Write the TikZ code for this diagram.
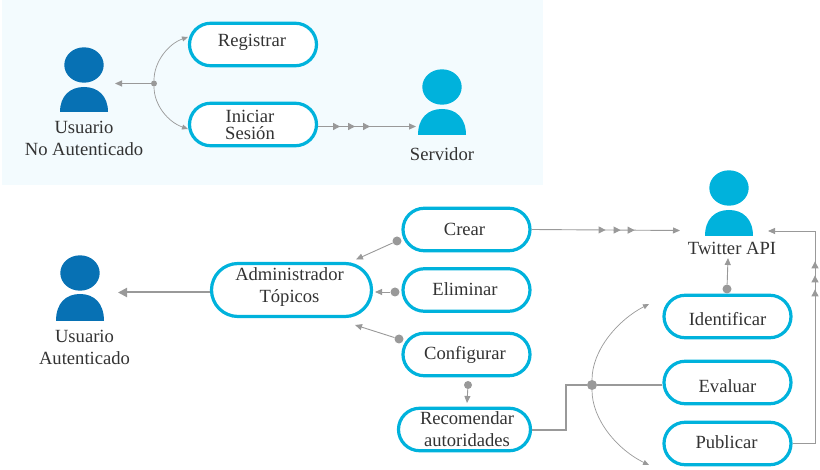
\documentclass[tikz,border=0pt]{standalone}
\usepackage{fontspec}
\setmainfont{Liberation Serif}
\usetikzlibrary{arrows.meta,shapes.misc,decorations.markings,calc}
\definecolor{pillblue}{HTML}{00B2DC}
\definecolor{darkuser}{HTML}{0771B4}
\definecolor{linegray}{HTML}{999999}
\definecolor{txtgray}{HTML}{333333}
\definecolor{panel}{HTML}{F3FBFE}
\tikzset{
  x=1pt,y=-1pt,
  pill/.style={draw=pillblue,line width=3.2pt,fill=white,rounded rectangle,rounded rectangle arc length=180,
    minimum width=#1,minimum height=42.5pt,inner sep=0pt,outer sep=1.6pt},
  pill/.default=127pt,
  txt/.style={text=txtgray,font=\fontsize{18.6}{22}\selectfont,align=center,inner sep=0pt},
  txtt/.style={text=txtgray,font=\fontsize{18.6}{17.5}\selectfont,align=center,inner sep=0pt},
  junction/.style={circle,fill=linegray,draw=none,minimum size=#1,inner sep=0pt},
  junction/.default=10pt,
  conn/.style={draw=linegray,line width=0.9pt,-{Triangle[length=7pt,width=6pt]}},
  thinconn/.style={draw=linegray,line width=0.7pt,-{Triangle[length=6pt,width=5pt]}},
  thickconn/.style={draw=linegray,line width=2.5pt},
  trunk/.style={draw=linegray,line width=2pt,-{Triangle[length=9pt,width=9pt]}},
}
\newcommand{\usershape}[5]{% x, headY, bodyTop, bodyBottom, colour
  \fill[#5] (#1,#2) ellipse [x radius=19.7pt,y radius=17.7pt];
  \fill[#5] (#1-24,#4) .. controls (#1-24,#3+9) and (#1-14,#3) .. (#1,#3)
     .. controls (#1+14,#3) and (#1+24,#3+9) .. (#1+24,#4) -- cycle;
}
\begin{document}
\begin{tikzpicture}
\useasboundingbox (0,0) rectangle (820,470);
\fill[panel] (2,0) rectangle (543,185);

% people
\usershape{84}{65}{87}{112}{darkuser}
\usershape{442}{87}{109}{135}{pillblue}
\usershape{729}{188}{210}{236}{pillblue}
\usershape{80}{273}{294}{321}{darkuser}
\node[txt] (tna) at (84,138) {Usuario\\No Autenticado};
\node[txt] (tsv) at (442,154) {Servidor};
\node[txt] (ttw) at (732,248) {Twitter API};
\node[txt] (tua) at (84.5,347.5) {Usuario\\Autenticado};

% pills
\node[pill,label={[txt,yshift=2pt,xshift=-1pt]center:Registrar}] (reg) at (253,44.5) {};
\node[pill,label={[txtt,yshift=-0.5pt,xshift=-3pt]center:Iniciar\\Sesión}] (ini) at (253,124.5) {};
\node[pill,label={[txt,xshift=-2pt]center:Crear}] (cre) at (466.5,229.5) {};
\node[pill,label={[txt,xshift=-1.5pt,yshift=1pt]center:Eliminar}] (eli) at (466.5,290) {};
\node[pill,label={[txt,xshift=-1.5pt,yshift=0pt]center:Configurar}] (con) at (466.5,354.5) {};
\node[pill=132pt,label={[txt,xshift=2.5pt,yshift=0.5pt]center:Recomendar\\autoridades}] (rec) at (464.5,429.5) {};
\node[pill=160pt,minimum height=53pt,label={[txt,yshift=3pt,xshift=-2pt]center:Administrador\\Tópicos}] (adm) at (291.5,290) {};
\node[pill,label={[txt,yshift=-3pt]center:Identificar}] (ide) at (727.5,316.5) {};
\node[pill,label={[txt,yshift=-4pt]center:Evaluar}] (eva) at (727.5,382.5) {};
\node[pill,label={[txt,yshift=1pt,xshift=-1pt]center:Publicar}] (pub) at (727.5,443.5) {};

% junctions
\node[junction=6pt] (j1) at (154,83.5) {};
\node[junction] (j2) at (592,385) {};
\node[junction=9pt] (jcre) at (397,241) {};
\node[junction=9pt] (jeli) at (395,292) {};
\node[junction=9pt] (jcon) at (399,339) {};
\node[junction=8pt] (jrec) at (468,385) {};
\node[junction=9pt] (jide) at (727,289) {};

% free ends
\coordinate (e1) at (115,83.5);
\coordinate (e2) at (188,37);
\coordinate (e3) at (188,129);
\coordinate (e4) at (416,126.5);
\coordinate (e5) at (680,230.5);
\coordinate (e6) at (768,231);
\coordinate (e7) at (356,259.5);
\coordinate (e8) at (375,292);
\coordinate (e9) at (355,325);
\coordinate (e10) at (467,403);
\coordinate (e11) at (728,258);
\coordinate (e12) at (118,292.5);
\coordinate (e13) at (649,304);
\coordinate (e14) at (649,465);
\coordinate (c1) at (566,430);
\coordinate (c2) at (566,385);
\coordinate (c3) at (815,443);
\coordinate (c4) at (815,231);

% connectors top panel
\draw[conn] (j1) -- (e1);
\draw[thinconn] (j1) .. controls (154,62) and (168,44) .. (e2);
\draw[thinconn] (j1) .. controls (154,105) and (168,122) .. (e3);
\draw[conn,postaction={decorate},decoration={markings,
   mark=at position 22pt with {\arrow{Triangle[length=7pt,width=7pt]}},
   mark=at position 37pt with {\arrow{Triangle[length=7pt,width=7pt]}},
   mark=at position 52pt with {\arrow{Triangle[length=7pt,width=7pt]}}}]
   (ini.east |- e4) -- (e4);

% connectors bottom
\draw[conn,postaction={decorate},decoration={markings,
   mark=at position 74pt with {\arrow{Triangle[length=7pt,width=7pt]}},
   mark=at position 89pt with {\arrow{Triangle[length=7pt,width=7pt]}},
   mark=at position 103pt with {\arrow{Triangle[length=7pt,width=7pt]}}}]
   (cre.east) -- (e5);
\draw[conn] (jcre) -- (e7);
\draw[conn] (jeli) -- (e8);
\draw[conn] (jcon) -- (e9);
\draw[conn] (jrec) -- (e10);
\draw[conn] (jide) -- (e11);
\draw[trunk] (adm.west |- e12) -- (e12);
\draw[thickconn] (rec.east |- c1) -- (c1) -- (c2) -- (j2) -- (eva.west |- j2);
\draw[thinconn] (j2) .. controls (592,350) and (618,320) .. (e13);
\draw[thinconn] (j2) .. controls (592,420) and (618,450) .. (e14);
\draw[draw=linegray,line width=0.9pt,-{Triangle[length=7pt,width=6pt]},postaction={decorate},decoration={markings,
   mark=at position 176pt with {\arrow{Triangle[length=7pt,width=7pt]}},
   mark=at position 190pt with {\arrow{Triangle[length=7pt,width=7pt]}},
   mark=at position 204pt with {\arrow{Triangle[length=7pt,width=7pt]}}}]
   (pub.east |- c3) -- (c3) -- (c4) -- (e6);
\end{tikzpicture}
\end{document}
